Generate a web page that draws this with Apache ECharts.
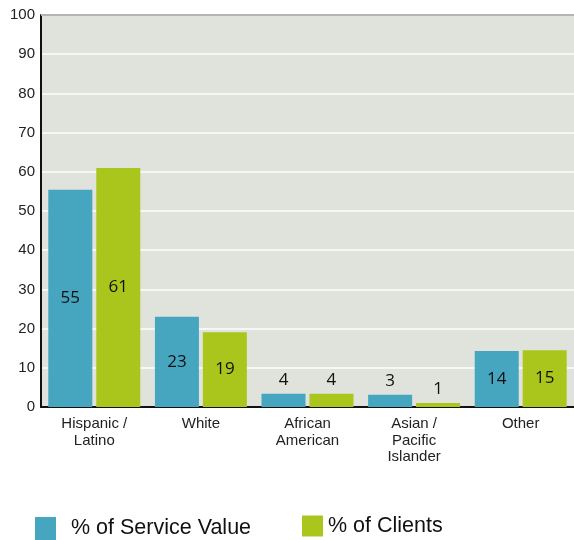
<!DOCTYPE html>
<html>
<head>
<meta charset="utf-8">
<script src="https://cdn.jsdelivr.net/npm/echarts@6/dist/echarts.min.js"></script>
<style>html,body{margin:0;padding:0;background:#fff;}#c{width:574px;height:540px;}</style>
</head>
<body>
<div id="c"></div>
<script>
var categories = ['Hispanic /\nLatino', 'White', 'African\nAmerican', 'Asian /\nPacific\nIslander', 'Other'];
var serviceValues = [55.4, 23, 3.4, 3.1, 14.3];
var serviceLabels = [55, 23, 4, 3, 14];
var clientValues = [61, 19.1, 3.4, 1.0, 14.5];
var clientLabels = [61, 19, 4, 1, 15];
var yTicks = [0, 10, 20, 30, 40, 50, 60, 70, 80, 90, 100];

function buildData(vals, labels) {
  return vals.map(function (v, i) {
    return {
      value: v,
      label: { position: v < 8 ? 'top' : 'inside', formatter: String(labels[i]) }
    };
  });
}

var labelStyle = { show: true, color: '#111', fontFamily: 'Open Sans', fontSize: 17 };

var chart = echarts.init(document.getElementById('c'));
chart.setOption({
  animation: false,
  grid: { left: 41, right: -2, top: 15, bottom: 133, show: true, backgroundColor: '#e0e2dc', borderWidth: 0 },
  xAxis: {
    type: 'category',
    data: categories,
    axisLine: { lineStyle: { color: '#111', width: 2 } },
    axisTick: { show: false },
    axisLabel: { color: '#222', fontFamily: 'Liberation Sans', fontSize: 15, lineHeight: 16.5, margin: 9, interval: 0 }
  },
  yAxis: {
    type: 'value', min: yTicks[0], max: yTicks[yTicks.length - 1], interval: 10,
    axisLine: { show: true, lineStyle: { color: '#111', width: 2 } },
    axisTick: { show: false },
    splitLine: { lineStyle: { color: '#f6f6f4', width: 2 } },
    axisLabel: { color: '#222', fontFamily: 'Liberation Sans', fontSize: 15, margin: 6 }
  },
  legend: [
    { data: ['% of Service Value'], left: 30, top: 512, itemWidth: 21, itemHeight: 23, icon: 'rect',
      textStyle: { fontFamily: 'Liberation Sans', fontSize: 21.5, color: '#111', padding: [1, 0, 0, 10] } },
    { data: ['% of Clients'], left: 297, top: 510, itemWidth: 21, itemHeight: 21, icon: 'rect',
      textStyle: { fontFamily: 'Liberation Sans', fontSize: 21.5, color: '#111', padding: [9, 0, 0, 0] } }
  ],
  series: [
    {
      name: '% of Service Value', type: 'bar', barWidth: 44, barGap: '9%',
      itemStyle: { color: '#46a5bf' },
      label: labelStyle,
      data: buildData(serviceValues, serviceLabels),
      markLine: { silent: true, symbol: 'none', label: { show: false },
        lineStyle: { color: '#b4b4b4', width: 2, type: 'solid' }, data: [{ yAxis: 100 }] }
    },
    {
      name: '% of Clients', type: 'bar', barWidth: 44, barGap: '9%',
      itemStyle: { color: '#aac61c' },
      label: labelStyle,
      data: buildData(clientValues, clientLabels)
    }
  ]
});
</script>
</body>
</html>
